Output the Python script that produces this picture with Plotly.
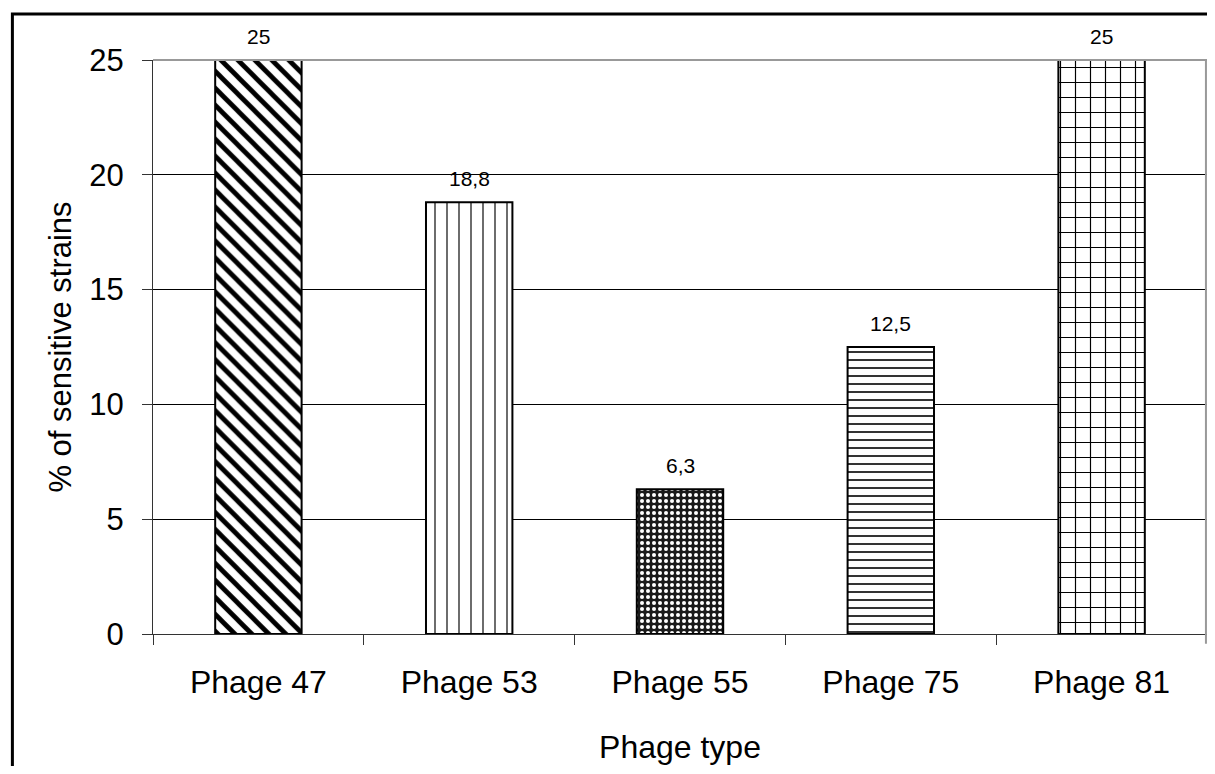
import plotly.graph_objects as go

categories = ["Phage 47", "Phage 53", "Phage 55", "Phage 75", "Phage 81"]
values = [25, 18.8, 6.3, 12.5, 25]
labels = ["25", "18,8", "6,3", "12,5", "25"]
y_ticks = [0, 5, 10, 15, 20, 25]

shapes_ = ["\\", "|", ".", "-", "+"]
sizes = [12, 12, 6, 8, 15]
solid = [0.4, 0.12, 0.35, 0.2, 0.15]
bgs = ["white", "white", "#1a1a1a", "white", "white"]
fgs = ["black", "#333333", "white", "black", "black"]

FONT = "Liberation Sans, Arial"

fig = go.Figure()
for i, c in enumerate(categories):
    fig.add_trace(go.Bar(
        x=[c], y=[values[i]],
        marker=dict(color=bgs[i], line=dict(color="black", width=2),
                    pattern=dict(shape=shapes_[i], size=sizes[i], solidity=solid[i],
                                 fgcolor=fgs[i], bgcolor=bgs[i], fillmode="replace")),
        width=0.41, cliponaxis=False, showlegend=False))
    fig.add_annotation(x=c, y=values[i], text=labels[i], showarrow=False,
                       yanchor="bottom", yshift=10,
                       font=dict(size=21, color="black", family=FONT))

fig.update_layout(
    width=1199, height=758,
    margin=dict(l=145, r=0, t=52, b=132),
    paper_bgcolor="white", plot_bgcolor="white",
    font=dict(family=FONT, color="black"),
    xaxis=dict(categoryorder="array", categoryarray=categories,
               tickson="boundaries", ticks="outside", ticklen=10, tickcolor="#333",
               showline=True, linecolor="#333", linewidth=1,
               tickfont=dict(size=32), showgrid=False, ticklabelstandoff=20,
               title=dict(text="Phage type", font=dict(size=32), standoff=36)),
    yaxis=dict(range=[0, 25], tickvals=y_ticks, ticks="outside", ticklen=10,
               tickcolor="#333", showline=True, linecolor="#333", linewidth=1,
               gridcolor="black", gridwidth=1, tickfont=dict(size=31),
               zeroline=False, ticklabelstandoff=12,
               title=dict(text="% of sensitive strains", font=dict(size=31), standoff=8)),
    shapes=[
        dict(type="line", xref="paper", yref="paper", x0=0, x1=1, y0=1, y1=1,
             line=dict(color="#999", width=2), layer="above"),
        dict(type="line", xref="paper", yref="paper", x0=0.999, x1=0.999, y0=-0.017, y1=1,
             line=dict(color="#999", width=2), layer="above"),
        dict(type="rect", xref="paper", yref="paper", x0=-0.1334, x1=1.1, y0=-0.3, y1=1.0801,
             line=dict(color="black", width=3), fillcolor="rgba(0,0,0,0)", layer="below"),
    ],
)

fig.write_html("out.html")
